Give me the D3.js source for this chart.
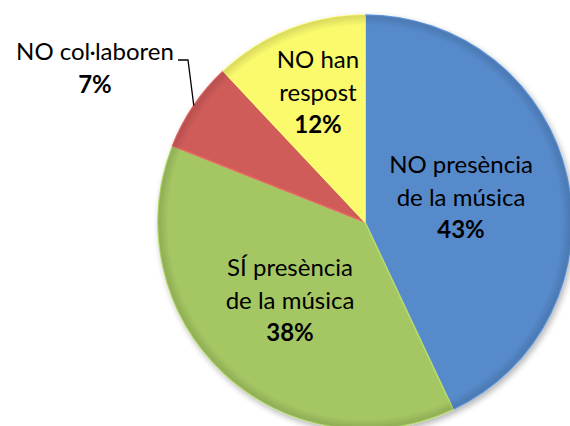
<!DOCTYPE html>
<html><head><meta charset="utf-8">
<script src="https://cdn.jsdelivr.net/npm/d3@7"></script>
<style>html,body{margin:0;padding:0;background:#fff;}svg{display:block;}</style>
</head><body>
<svg id="c" width="570" height="426"></svg>
<script>
const categories = ["NO presència de la música", "SÍ presència de la música", "NO col·laboren", "NO han respost"];
const labelLines = [["NO presència", "de la música"], ["SÍ presència", "de la música"], ["NO col·laboren"], ["NO han", "respost"]];
const values = [43, 38, 7, 12];
const colors = ["#568ACB", "#A5C763", "#D05C5A", "#FAFA6C"];

const svg = d3.select("#c");
const cx = 365, cy = 222, r = 207;
const defs = svg.append("defs");
const sh = defs.append("filter").attr("id","sh").attr("x","-20%").attr("y","-20%").attr("width","140%").attr("height","140%");
sh.append("feGaussianBlur").attr("in","SourceAlpha").attr("stdDeviation",3);
sh.append("feOffset").attr("dx",2).attr("dy",3).attr("result","b");
sh.append("feComponentTransfer").append("feFuncA").attr("type","linear").attr("slope",0.3);
const m = sh.append("feMerge"); m.append("feMergeNode"); m.append("feMergeNode").attr("in","SourceGraphic");

const rim = defs.append("radialGradient").attr("id","rim").attr("gradientUnits","userSpaceOnUse")
  .attr("cx",0).attr("cy",0).attr("r",r);
rim.append("stop").attr("offset","0.95").attr("stop-color","#000").attr("stop-opacity",0);
rim.append("stop").attr("offset","1").attr("stop-color","#000").attr("stop-opacity",0.14);

const pie = d3.pie().sort(null).value(d => d)(values);
const arc = d3.arc().innerRadius(0).outerRadius(r);
const g = svg.append("g").attr("transform",`translate(${cx},${cy})`);
const gs = g.append("g").attr("filter","url(#sh)");
gs.selectAll("path.s").data(pie).join("path").attr("class","s")
  .attr("d",arc).attr("fill",(d,i)=>colors[i])
  .attr("stroke",(d,i)=>d3.color(colors[i]).brighter(0.3)).attr("stroke-width",1.5).attr("stroke-linejoin","round");
g.append("g").selectAll("path").data(pie).join("path")
  .attr("d",d3.arc().innerRadius(r-11).outerRadius(r))
  .attr("fill","url(#rim)");

const font = "Lato, 'Open Sans', sans-serif";
const fs = 24, lh = 32.5;
const labelPos = [[461,173],[290,276],[95,60],[318,68]];
const tg = svg.append("g").attr("font-family",font).attr("font-size",fs).attr("fill","#000").attr("text-anchor","middle");
pie.forEach((d,i)=>{
  const [x,y] = labelPos[i];
  const t = tg.append("text").attr("x",x).attr("y",y);
  labelLines[i].forEach((ln,k)=>{
    t.append("tspan").attr("x",x).attr("y",y+k*lh).text(ln);
  });
  t.append("tspan").attr("x",x).attr("y",y+labelLines[i].length*lh).attr("font-weight","bold")
   .text(d3.format(".0%")(values[i]/100));
});
// leader line for small slice
const red = pie[2];
const mid = (red.startAngle + red.endAngle)/2;
const ex = cx + Math.sin(mid)*r, ey = cy - Math.cos(mid)*r;
svg.append("path").attr("d",`M178,60 L188,60 L${ex},${ey}`).attr("fill","none").attr("stroke","#000").attr("stroke-width",1.3);
</script>
</body></html>
